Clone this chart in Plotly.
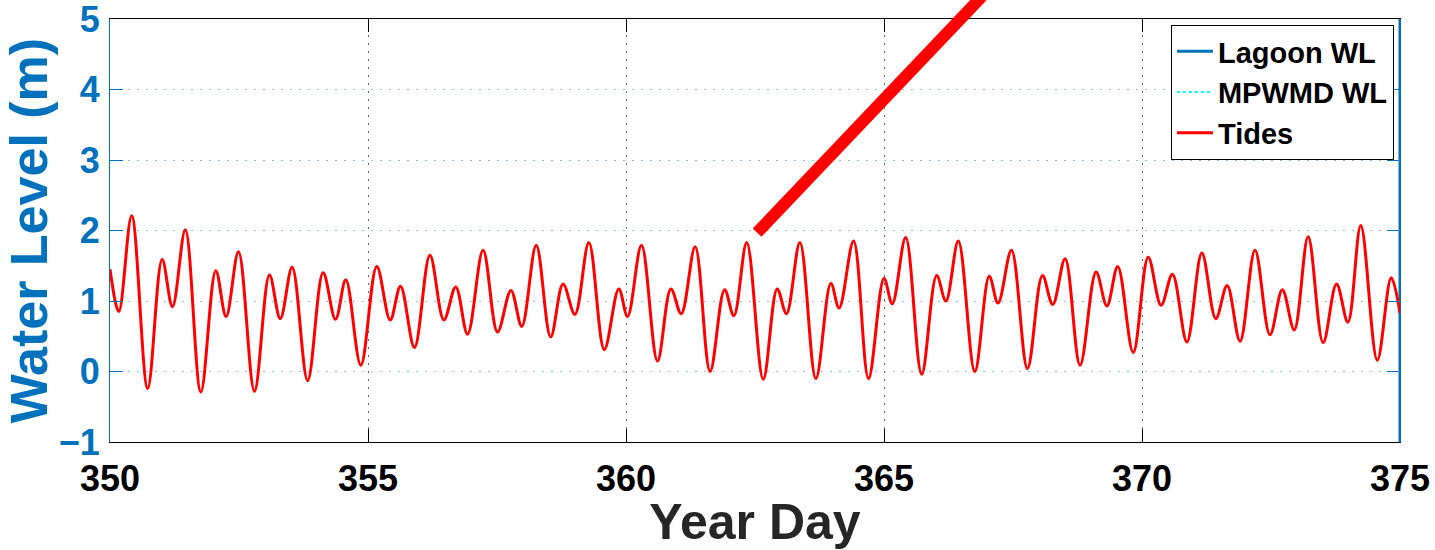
import plotly.graph_objects as go

# ---------------- data ----------------
# Tides: successive highs and lows (year day, water level m)
tide_day = [350.00, 350.17, 350.42, 350.73, 351.01, 351.21, 351.46, 351.76, 352.05, 352.25,
            352.49, 352.80, 353.09, 353.30, 353.53, 353.83, 354.13, 354.37, 354.57, 354.86,
            355.17, 355.43, 355.63, 355.90, 356.20, 356.47, 356.70, 356.93, 357.23, 357.51,
            357.77, 357.98, 358.26, 358.54, 358.78, 359.01, 359.28, 359.58, 359.86, 360.03,
            360.30, 360.61, 360.87, 361.07, 361.34, 361.63, 361.91, 362.09, 362.34, 362.66,
            362.93, 363.11, 363.37, 363.68, 363.97, 364.13, 364.41, 364.70, 365.00, 365.16,
            365.42, 365.73, 366.02, 366.20, 366.44, 366.76, 367.04, 367.21, 367.47, 367.78,
            368.07, 368.27, 368.51, 368.80, 369.11, 369.32, 369.53, 369.83, 370.12, 370.37,
            370.59, 370.87, 371.16, 371.43, 371.65, 371.90, 372.19, 372.48, 372.72, 372.95,
            373.22, 373.51, 373.77, 373.99, 374.24, 374.56, 374.83, 375.00]
tide_wl = [1.45, 0.85, 2.21, -0.24, 1.59, 0.92, 2.01, -0.29, 1.43, 0.78,
           1.70, -0.28, 1.37, 0.75, 1.48, -0.13, 1.40, 0.74, 1.30, 0.09,
           1.49, 0.73, 1.21, 0.34, 1.65, 0.73, 1.20, 0.53, 1.72, 0.56,
           1.15, 0.64, 1.79, 0.49, 1.24, 0.81, 1.83, 0.31, 1.17, 0.78,
           1.79, 0.15, 1.17, 0.82, 1.77, 0.00, 1.16, 0.79, 1.83, -0.11,
           1.17, 0.82, 1.83, -0.10, 1.25, 0.90, 1.85, -0.10, 1.32, 0.96,
           1.90, -0.04, 1.36, 1.00, 1.85, 0.00, 1.35, 0.97, 1.72, 0.04,
           1.36, 0.95, 1.60, 0.09, 1.41, 0.93, 1.49, 0.27, 1.62, 0.94,
           1.38, 0.42, 1.68, 0.75, 1.22, 0.43, 1.72, 0.52, 1.16, 0.59,
           1.91, 0.41, 1.24, 0.70, 2.07, 0.16, 1.33, 0.83]

# Lagoon WL: vertical segment along the right edge
lagoon_day = [375.0, 375.0]
lagoon_wl = [-1.0, 5.0]

# MPWMD WL: no visible data in this window (legend only)
mpwmd_day = [None]
mpwmd_wl = [None]

# thick red straight segment (runs off the top of the figure)
diag_day = [362.54, 367.30]
diag_wl = [1.97, 5.63]

x_range = [350, 375]
y_range = [-1, 5]
x_ticks = [350, 355, 360, 365, 370, 375]
y_ticks = [-1, 0, 1, 2, 3, 4, 5]

# ---------------- style ----------------
FONT = "Liberation Sans, Arial, Helvetica, sans-serif"
BLUE = "#0072BD"

fig = go.Figure()
fig.add_trace(go.Scatter(x=lagoon_day, y=lagoon_wl, name="Lagoon WL", mode="lines",
                         line=dict(color=BLUE, width=3)))
fig.add_trace(go.Scatter(x=mpwmd_day, y=mpwmd_wl, name="MPWMD WL", mode="lines",
                         line=dict(color="#00FFFF", width=2, dash="dot")))
fig.add_trace(go.Scatter(x=tide_day, y=tide_wl, name="Tides", mode="lines",
                         line=dict(color="#FF0000", width=3, shape="spline", smoothing=1)))


def to_px(d):
    return (d - x_range[0]) / (x_range[1] - x_range[0])


def to_py(v):
    return (v - y_range[0]) / (y_range[1] - y_range[0])


fig.add_shape(type="line", xref="paper", yref="paper",
              x0=to_px(diag_day[0]), y0=to_py(diag_wl[0]),
              x1=to_px(diag_day[1]), y1=to_py(diag_wl[1]),
              line=dict(color="#FF0000", width=12))

fig.update_layout(
    width=1435, height=550,
    margin=dict(l=110, r=35, t=19, b=108, autoexpand=False),
    paper_bgcolor="white", plot_bgcolor="white",
    font=dict(family=FONT),
    showlegend=True,
    legend=dict(x=0.9953, y=0.9858, xanchor="right", yanchor="top",
                bgcolor="white", bordercolor="black", borderwidth=1,
                font=dict(family=FONT, size=29, color="black", weight="bold"),
                tracegroupgap=0, itemwidth=36),
)

fig.update_xaxes(
    range=x_range, tickvals=x_ticks, ticks="inside", ticklen=13, tickcolor="black",
    showline=True, linecolor="black", linewidth=1, mirror="ticks",
    showgrid=True, gridcolor="rgba(0,0,0,0.6)", griddash="2px,6px", gridwidth=1,
    zeroline=False, automargin=False, ticklabeloverflow="allow",
    tickfont=dict(family=FONT, size=36, color="black", weight="bold"),
    ticklabelstandoff=5,
    title=dict(text="Year Day", standoff=10,
               font=dict(family=FONT, size=50, color="#262626", weight="bold")),
)
fig.update_yaxes(
    range=y_range, tickvals=y_ticks, ticks="inside", ticklen=13, tickcolor=BLUE,
    showline=True, linecolor=BLUE, linewidth=1, mirror="ticks",
    showgrid=True, gridcolor="rgba(0,114,189,0.45)", griddash="2px,7px", gridwidth=1,
    zeroline=False, automargin=False, ticklabeloverflow="allow",
    tickfont=dict(family=FONT, size=36, color=BLUE, weight="bold"),
    ticklabelstandoff=2,
    title=dict(text="Water Level (m)", standoff=6,
               font=dict(family=FONT, size=52, color=BLUE, weight="bold")),
)

fig.write_html("out.html")
